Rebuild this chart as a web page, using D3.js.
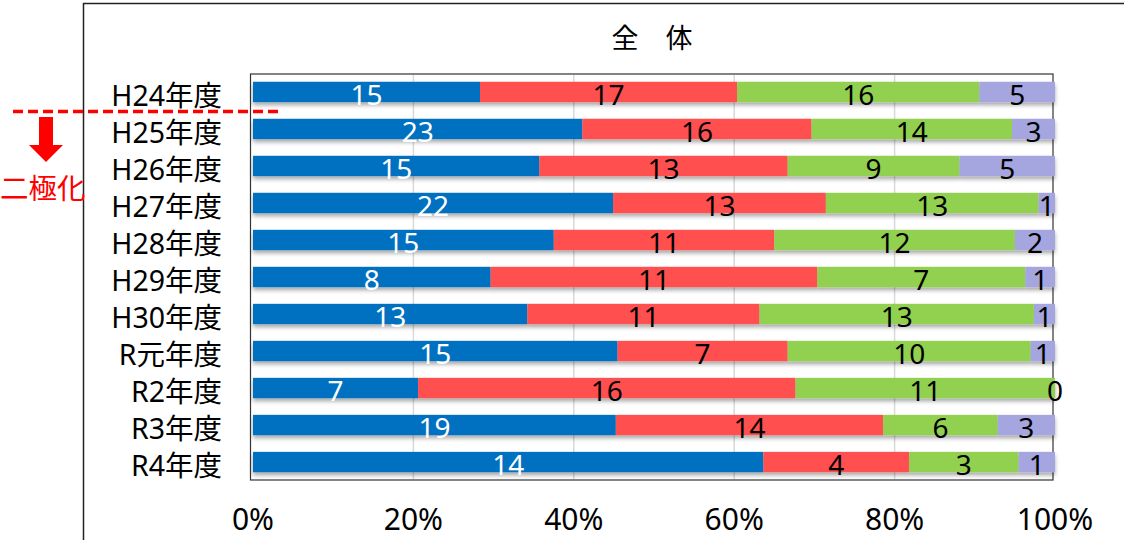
<!DOCTYPE html>
<html>
<head>
<meta charset="utf-8">
<script src="https://cdn.jsdelivr.net/npm/d3@7"></script>
<style>
  body { margin: 0; background: #fff; }
  svg { display: block; font-family: "Noto Sans", "Noto Sans CJK JP", sans-serif; }
</style>
</head>
<body>
<svg id="chart" width="1124" height="540"></svg>
<script>
    // categories and series (counts)
    var years = ['H24年度', 'H25年度', 'H26年度', 'H27年度', 'H28年度', 'H29年度',
                 'H30年度', 'R元年度', 'R2年度', 'R3年度', 'R4年度'];
    var blueVals   = [15, 23, 15, 22, 15, 8, 13, 15, 7, 19, 14];
    var redVals    = [17, 16, 13, 13, 11, 11, 11, 7, 16, 14, 4];
    var greenVals  = [16, 14, 9, 13, 12, 7, 13, 10, 11, 6, 3];
    var purpleVals = [5, 3, 5, 1, 2, 1, 1, 1, 0, 3, 1];
    var tickVals = [0, 0.2, 0.4, 0.6, 0.8, 1];

    var seriesKeys = ['blue', 'red', 'green', 'purple'];
    var colors = {blue: '#0070C0', red: '#FF5050', green: '#92D050', purple: '#A5A5DF'};
    var textColors = {blue: '#fff', red: '#000', green: '#000', purple: '#000'};

    var rows = years.map(function(y, i) {
        return {year: y, blue: blueVals[i], red: redVals[i], green: greenVals[i], purple: purpleVals[i]};
    });

    var svg = d3.select('#chart');

    // outer frame (cut at right / bottom)
    svg.append('path')
        .attr('d', 'M83.5,545 V3.5 H1130')
        .attr('fill', 'none')
        .attr('stroke', '#222')
        .attr('stroke-width', 1.5);

    var plot = {left: 253, right: 1055, top: 74, bottom: 480};

    var x = d3.scaleLinear().domain([0, 1]).range([plot.left, plot.right]);
    var y = d3.scaleBand().domain(years).range([plot.top, plot.bottom])
        .paddingInner(0.45).paddingOuter(0.21);

    var stack = d3.stack().keys(seriesKeys).offset(d3.stackOffsetExpand);
    var layers = stack(rows);

    var defs = svg.append('defs');
    var f = defs.append('filter').attr('id', 'shadow')
        .attr('x', '-2%').attr('y', '-20%').attr('width', '104%').attr('height', '160%');
    f.append('feDropShadow').attr('dx', 0).attr('dy', 3).attr('stdDeviation', 2)
        .attr('flood-color', '#000').attr('flood-opacity', 0.35);

    // plot area frame
    svg.append('rect')
        .attr('x', plot.left - 2.5).attr('y', plot.top)
        .attr('width', plot.right - plot.left + 0.5).attr('height', plot.bottom - plot.top)
        .attr('fill', '#fff').attr('stroke', '#333').attr('stroke-width', 1.2);

    // gridlines
    svg.append('g').selectAll('line')
        .data(tickVals.slice(1, -1))
        .join('line')
        .attr('x1', function(d) { return x(d); })
        .attr('x2', function(d) { return x(d); })
        .attr('y1', plot.top + 1).attr('y2', plot.bottom - 1)
        .attr('stroke', '#d9d9d9').attr('stroke-width', 1.5);

    // bars
    var barG = svg.append('g').attr('filter', 'url(#shadow)');
    layers.forEach(function(layer) {
        barG.append('g').selectAll('rect')
            .data(layer)
            .join('rect')
            .attr('x', function(d) { return x(d[0]); })
            .attr('y', function(d) { return y(d.data.year); })
            .attr('width', function(d) { return x(d[1]) - x(d[0]); })
            .attr('height', y.bandwidth())
            .attr('fill', colors[layer.key]);
    });

    // value labels
    layers.forEach(function(layer) {
        svg.append('g').selectAll('text')
            .data(layer)
            .join('text')
            .attr('x', function(d) { return (x(d[0]) + x(d[1])) / 2; })
            .attr('y', function(d) { return y(d.data.year) + y.bandwidth() / 2 + 13; })
            .attr('text-anchor', 'middle')
            .attr('font-size', 28)
            .attr('fill', textColors[layer.key])
            .text(function(d) { return d.data[layer.key]; });
    });

    // category axis labels
    svg.append('g').selectAll('text')
        .data(years)
        .join('text')
        .attr('x', 222)
        .attr('y', function(d) { return y(d) + y.bandwidth() / 2 + 14; })
        .attr('text-anchor', 'end')
        .attr('font-size', 28.5)
        .attr('fill', '#000')
        .text(function(d) { return d; });

    // x tick labels
    svg.append('g').selectAll('text')
        .data(tickVals)
        .join('text')
        .attr('x', function(d) { return x(d); })
        .attr('y', 530)
        .attr('text-anchor', 'middle')
        .attr('font-size', 30)
        .attr('fill', '#000')
        .text(d3.format('.0%'));

    // title
    svg.append('text')
        .attr('x', 652).attr('y', 48)
        .attr('text-anchor', 'middle')
        .attr('font-size', 27)
        .attr('fill', '#000')
        .text('全　体');

    // annotation: dashed line, arrow, text
    svg.append('line')
        .attr('x1', 13).attr('x2', 280)
        .attr('y1', 111.5).attr('y2', 111.5)
        .attr('stroke', '#FF0000').attr('stroke-width', 3.5)
        .attr('stroke-dasharray', '10,5');

    svg.append('path')
        .attr('d', 'M39,117 H53 V145 H63 L46,162 L29,145 H39 Z')
        .attr('fill', '#FF0000');

    svg.append('text')
        .attr('x', 0).attr('y', 199)
        .attr('font-size', 28.5)
        .attr('fill', '#FF0000')
        .text('二極化');
</script>
</body>
</html>
